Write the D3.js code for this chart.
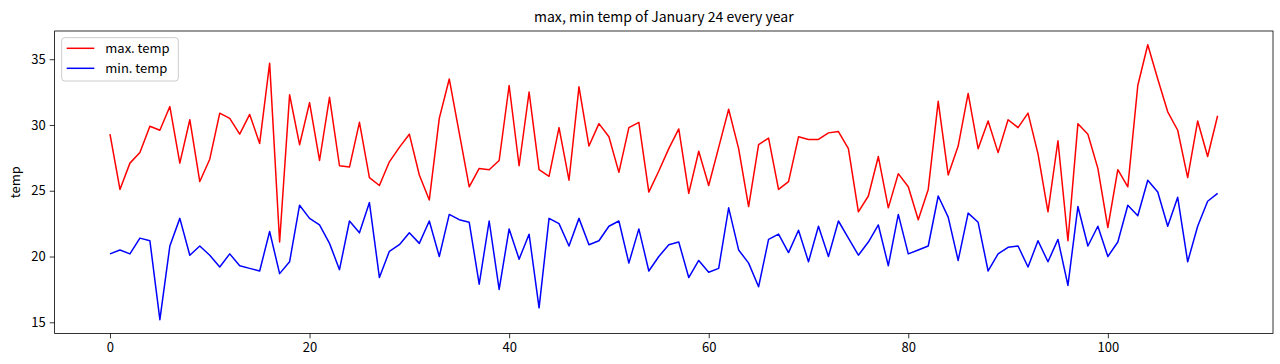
<!DOCTYPE html>
<html><head><meta charset="utf-8">
<script src="https://cdn.jsdelivr.net/npm/d3@7"></script>
<style>
html,body{margin:0;padding:0;background:#fff;}
svg text{font-family:"Noto Sans CJK KR","DejaVu Sans",sans-serif;fill:#000;}
</style></head><body>
<svg id="c" width="1280" height="364"></svg>
<script>
const title = "max, min temp of January 24 every year";
const yLabel = "temp";
const seriesNames = ["max. temp", "min. temp"];
const seriesColors = ["#ff0000", "#0000ff"];
const xTicks = [0, 20, 40, 60, 80, 100];
const yTicks = [15, 20, 25, 30, 35];

const maxTemp = [
29.3,25.1,27.1,27.9,29.9,29.6,31.4,27.1,30.4,25.7,
27.4,30.9,30.5,29.3,30.8,28.6,34.7,21.1,32.3,28.5,
31.7,27.3,32.1,26.9,26.8,30.2,26.0,25.4,27.2,28.3,
29.3,26.2,24.3,30.5,33.5,29.4,25.3,26.7,26.6,27.3,
33.0,26.9,32.5,26.6,26.1,29.8,25.8,32.9,28.4,30.1,
29.1,26.4,29.8,30.2,24.9,26.5,28.2,29.7,24.8,28.0,
25.4,28.3,31.2,28.2,23.8,28.5,29.0,25.1,25.7,29.1,
28.9,28.9,29.4,29.5,28.2,23.4,24.6,27.6,23.7,26.3,
25.3,22.8,25.1,31.8,26.2,28.4,32.4,28.2,30.3,27.9,
30.4,29.8,30.9,27.8,23.4,28.8,21.2,30.1,29.3,26.7,
22.2,26.6,25.3,33.0,36.1,33.5,31.0,29.6,26.0,30.3,
27.6,30.7];
const minTemp = [
20.2,20.5,20.2,21.4,21.2,15.2,20.8,22.9,20.1,20.8,
20.1,19.2,20.2,19.3,19.1,18.9,21.9,18.7,19.6,23.9,
22.9,22.4,21.0,19.0,22.7,21.8,24.1,18.4,20.4,20.9,
21.8,21.0,22.7,20.0,23.2,22.8,22.6,17.9,22.7,17.5,
22.1,19.8,21.7,16.1,22.9,22.5,20.8,22.9,20.9,21.2,
22.3,22.7,19.5,22.1,18.9,20.0,20.9,21.1,18.4,19.7,
18.8,19.1,23.7,20.5,19.5,17.7,21.3,21.7,20.3,22.0,
19.6,22.3,20.0,22.7,21.4,20.1,21.1,22.4,19.3,23.2,
20.2,20.5,20.8,24.6,23.0,19.7,23.3,22.6,18.9,20.2,
20.7,20.8,19.2,21.2,19.6,21.3,17.8,23.8,20.8,22.3,
20.0,21.1,23.9,23.1,25.8,24.9,22.3,24.5,19.6,22.3,
24.2,24.8];

const svg = d3.select("#c");
const L = 54.6, R = 1273, T = 31, B = 333.4;
const n = maxTemp.length;
const x = d3.scaleLinear().domain([-0.05*(n-1), (n-1)*1.05]).range([L, R]);
const all = maxTemp.concat(minTemp);
const lo = d3.min(all), hi = d3.max(all), pad = (hi-lo)*0.05;
const y = d3.scaleLinear().domain([lo-pad, hi+pad]).range([B, T]);

const line = d3.line().x((d,i)=>x(i)).y(d=>y(d));
[maxTemp, minTemp].forEach((s,k)=>{
  svg.append("path").datum(s).attr("d", line)
    .attr("fill","none").attr("stroke", seriesColors[k])
    .attr("stroke-width",1.5).attr("stroke-linejoin","round");
});

const xa = svg.append("g").attr("transform",`translate(0,${B})`)
  .call(d3.axisBottom(x).tickValues(xTicks).tickSize(4.9).tickPadding(4).tickFormat(d3.format("d")));
const ya = svg.append("g").attr("transform",`translate(${L},0)`)
  .call(d3.axisLeft(y).tickValues(yTicks).tickSize(4.9).tickPadding(4).tickFormat(d3.format("d")));
[xa, ya].forEach(g=>{
  g.select(".domain").remove();
  g.selectAll("line").attr("stroke","#000").attr("stroke-width",0.8);
  g.selectAll("text").style("font-family",'"Noto Sans CJK KR","DejaVu Sans",sans-serif').attr("font-size",13).attr("fill","#000");
});

svg.append("rect").attr("x",L).attr("y",T).attr("width",R-L).attr("height",B-T)
  .attr("fill","none").attr("stroke","#000").attr("stroke-width",0.8);

svg.append("text").attr("x",(L+R)/2).attr("y",22).attr("text-anchor","middle")
  .attr("font-size",14).text(title);
svg.append("text").attr("transform",`translate(20,${(T+B)/2}) rotate(-90)`)
  .attr("text-anchor","middle").attr("font-size",13).text(yLabel);

const lg = svg.append("g");
lg.append("rect").attr("x",61.7).attr("y",37.7).attr("width",116.6).attr("height",43.3)
  .attr("rx",3).attr("fill","#fff").attr("fill-opacity",0.8).attr("stroke","#ccc").attr("stroke-width",1);
seriesNames.forEach((nm,k)=>{
  const yy = 48.3 + k*20;
  lg.append("line").attr("x1",66.7).attr("x2",94.3).attr("y1",yy).attr("y2",yy)
    .attr("stroke",seriesColors[k]).attr("stroke-width",1.5);
  lg.append("text").attr("x",105.3).attr("y",yy+4.5).attr("font-size",13).text(nm);
});
</script>
</body></html>
